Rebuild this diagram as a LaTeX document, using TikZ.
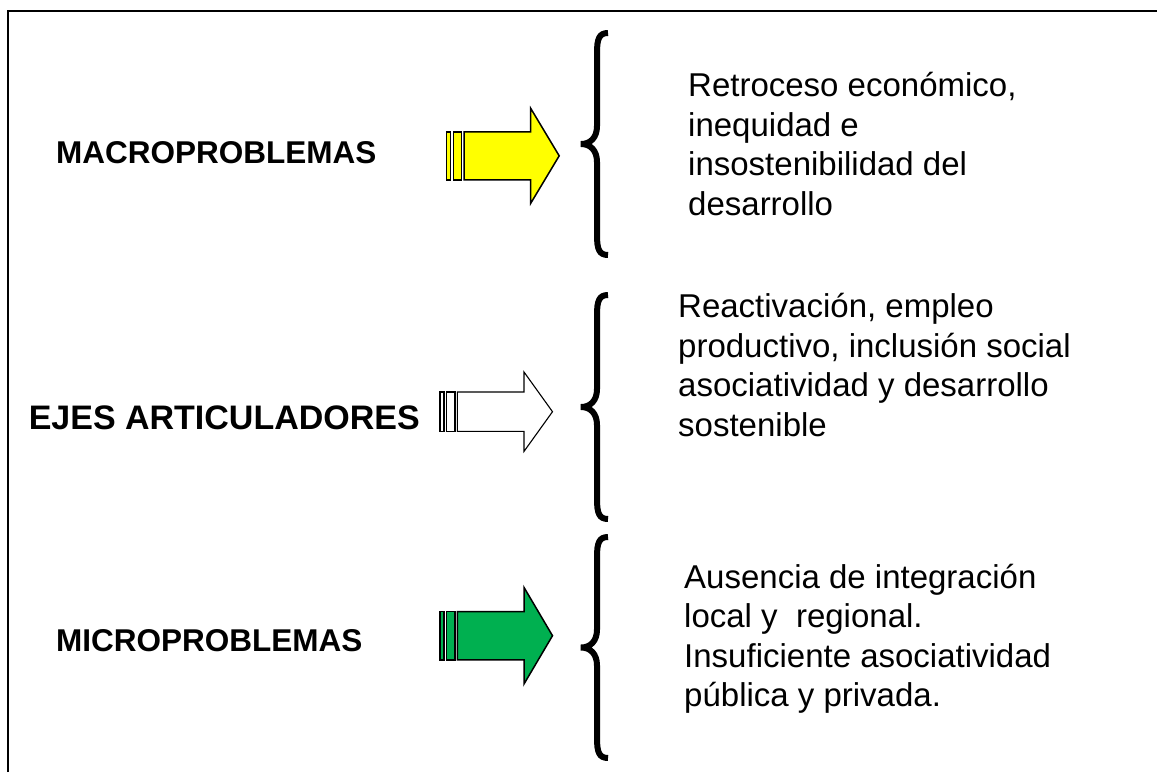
\documentclass[tikz,border=0pt]{standalone}
\usepackage{fontspec}
\setmainfont{Liberation Sans}
\definecolor{arrowyellow}{RGB}{255,255,0}
\definecolor{arrowgreen}{RGB}{0,176,80}
\begin{document}
\begin{tikzpicture}[x=1pt,y=-1pt,
  label text/.style={font=\fontsize{31.5}{38}\selectfont\bfseries,inner sep=0pt},
  block text/.style={font=\fontsize{33}{39.5}\selectfont,align=left,inner sep=0pt,anchor=base west},
  brace line/.style={line width=6pt},
  block arrow/.style={draw=black,line join=miter}]
\useasboundingbox (0,0) rectangle (1157,772);
% frame
\draw[line width=2.5pt] (8,772)--(8,11)--(1157,11);
% left labels
\node[label text,anchor=base west] (MACRO) at (56,163.3) {MACROPROBLEMAS};
\node[label text,font=\fontsize{34}{40}\selectfont\bfseries,anchor=base east] (EJES) at (420,429) {EJES ARTICULADORES};
\node[label text,anchor=base west] (MICRO) at (56,651) {MICROPROBLEMAS};
% striped arrows
\foreach \x/\y/\b/\h/\col/\w in {446.7/155.8/24/47.5/arrowyellow/1.5, 440/411.7/19.7/39.7/white/1.1, 440/635.7/24.2/48.3/arrowgreen/1.5}
{
\draw[block arrow,fill=\col,line width=\w] (\x,\y-\b) rectangle (\x+4,\y+\b);
\draw[block arrow,fill=\col,line width=\w] (\x+6.7,\y-\b) rectangle (\x+15,\y+\b);
\draw[block arrow,fill=\col,line width=\w] (\x+17.3,\y-\b)--(\x+84,\y-\b)--(\x+84,\y-\h)--(\x+112.5,\y)
  --(\x+84,\y+\h)--(\x+84,\y+\b)--(\x+17.3,\y+\b)--cycle;
}
% braces
\foreach \t/\c/\b in {33/144/255, 295/407/519, 537/647.5/758}
{
\draw[brace line] (608,\t) .. controls (599,\t) and (597,\t+6) .. (597,\t+20) -- (597,\c-18)
  .. controls (597,\c-6) and (590,\c) .. (581,\c) .. controls (590,\c) and (597,\c+6) .. (597,\c+18)
  -- (597,\b-20) .. controls (597,\b-6) and (599,\b) .. (608,\b);
}
% right texts (base = last line)
\node[block text] (T1) at (688,215.2) {Retroceso económico,\\inequidad e\\insostenibilidad del\\desarrollo};
\node[block text] (T2) at (678,436) {Reactivación, empleo\\productivo, inclusión social\\asociatividad y desarrollo\\sostenible};
\node[block text] (T3) at (684,706.5) {Ausencia de integración\\local y\ \ regional.\\Insuficiente asociatividad\\pública y privada.};
\end{tikzpicture}
\end{document}
